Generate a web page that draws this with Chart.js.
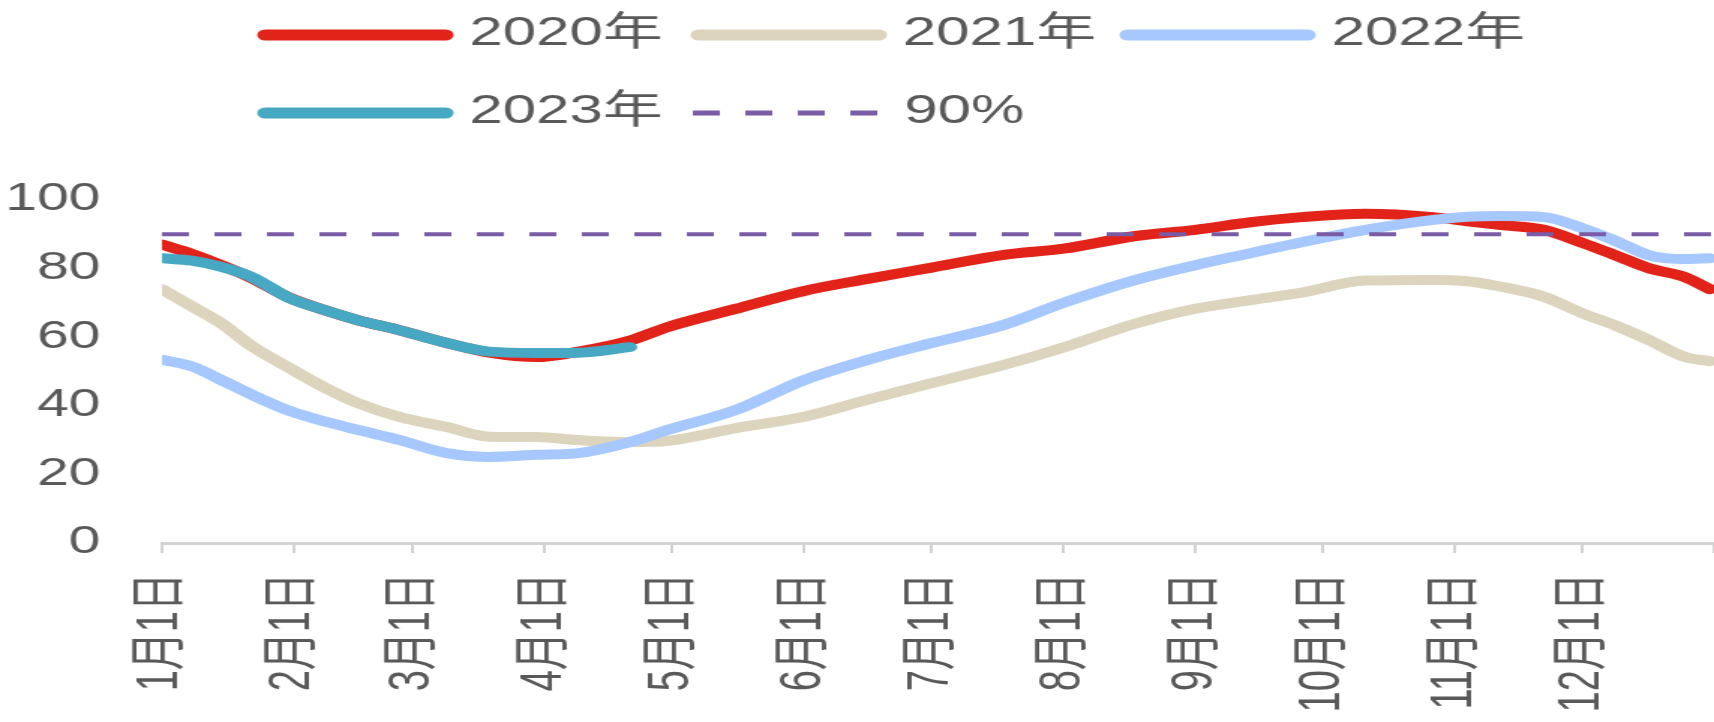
<!DOCTYPE html>
<html>
<head>
<meta charset="utf-8">
<script src="https://cdn.jsdelivr.net/npm/chart.js@4.4.1/dist/chart.umd.min.js"></script>
<style>
    html, body { margin: 0; padding: 0; background: #fff; overflow: hidden; }
    /* the reference is stretched sideways, so draw narrow and scale it out */
    #wrap { width: 1143px; height: 722px; transform: scaleX(1.49956); transform-origin: 0 0; }
</style>
</head>
<body>
<div id="wrap"><canvas id="myChart" width="1143" height="722"></canvas></div>
<script>
// day of year for each reading (0 = Jan 1)
const days = [0, 7, 14, 21, 30, 38, 46, 56, 67, 77, 88, 98, 110, 119, 135, 151, 166, 181, 198, 212,
    229, 243, 256, 268, 283, 299, 307, 315, 325, 334, 342, 350, 358, 364];

const y2020 = [87, 84.3, 81, 77.3, 71.5, 68, 65, 62, 58.3, 55.5, 54.2, 55.8, 59, 63, 68.3, 73.5, 77, 80.3, 84, 85.8,
    89.5, 91.3, 93.5, 95, 96, 95, 93.8, 92.7, 91.3, 87.5, 83.8, 80, 77.6, 74];
const y2021 = [74, 69, 64, 57.5, 51, 45.5, 40.8, 36.7, 33.8, 31, 30.9, 30, 29.4, 29.8, 33.5, 36.8, 41.8, 46.6, 51.9, 57,
    64, 68.3, 70.8, 73, 76.5, 76.7, 76.3, 74.7, 71.8, 67, 63.3, 59, 54.3, 53];
const y2022 = [53.4, 51.5, 47.5, 43.3, 38.5, 35.5, 33, 30, 26.2, 25.1, 25.7, 26.2, 29.4, 33, 38.8, 47.5, 53.4, 58.3, 63.6, 70,
    76.7, 81, 84.5, 87.7, 91.3, 94.2, 95.1, 95.3, 95, 91.8, 88, 83.8, 82.8, 83];
const y2023 = [83, 82.3, 80.5, 77.6, 71.4, 68, 65, 62, 58.3, 55.8, 55.4, 55.5, 57.1];
const targetLevel = 90;

// month start ticks
const monthDays = [0, 31, 59, 90, 120, 151, 181, 212, 243, 273, 304, 334, 365];
const monthLabels = ['1月1日', '2月1日', '3月1日', '4月1日', '5月1日', '6月1日', '7月1日', '8月1日',
    '9月1日', '10月1日', '11月1日', '12月1日', ''];

const FONT = '"Liberation Sans", "Noto Sans CJK SC", sans-serif';
const TEXT = '#595959';

function points(values) {
    return values.map((v, i) => ({x: days[i], y: v}));
}

function lineSet(label, values, color, order) {
    return {
        label: label,
        data: points(values),
        borderColor: color,
        backgroundColor: color,
        borderWidth: 10,
        borderCapStyle: 'round',
        borderJoinStyle: 'round',
        pointRadius: 0,
        cubicInterpolationMode: 'monotone',
        order: order
    };
}

// legend spots (canvas units, before the sideways stretch)
const legendSpots = [
    {x: 172, y: 35}, {x: 461, y: 35}, {x: 747, y: 35},
    {x: 172, y: 113}, {x: 462, y: 113}
];

const topLegend = {
    id: 'topLegend',
    afterDraw(chart) {
        const ctx = chart.ctx;
        ctx.save();
        ctx.font = '40px ' + FONT;
        ctx.fillStyle = TEXT;
        ctx.textBaseline = 'middle';
        legendSpots.forEach((spot, i) => {
            const ds = chart.data.datasets[i];
            ctx.strokeStyle = ds.borderColor;
            if (ds.borderDash) {
                ctx.lineWidth = 5;
                ctx.lineCap = 'butt';
                ctx.setLineDash(ds.borderDash);
                ctx.beginPath();
                ctx.moveTo(spot.x, spot.y);
                ctx.lineTo(spot.x + 123, spot.y);
                ctx.stroke();
                ctx.setLineDash([]);
            } else {
                ctx.lineWidth = 11;
                ctx.lineCap = 'round';
                ctx.beginPath();
                ctx.moveTo(spot.x + 5, spot.y);
                ctx.lineTo(spot.x + 125, spot.y);
                ctx.stroke();
            }
            ctx.fillText(ds.label, spot.x + 141, spot.y - 1);
        });
        ctx.restore();
    }
};

const myChart = new Chart(
    document.getElementById('myChart'),
    {
        type: 'line',
        data: {
            datasets: [
                lineSet('2020年', y2020, '#E2231A', 4),
                lineSet('2021年', y2021, '#DDD4BD', 3),
                lineSet('2022年', y2022, '#A6C8FF', 2),
                lineSet('2023年', y2023, '#46A8C2', 1),
                {
                    label: '90%',
                    data: [{x: 0, y: targetLevel}, {x: 365, y: targetLevel}],
                    borderColor: '#7A5BA6',
                    borderWidth: 4,
                    borderDash: [18, 17],
                    pointRadius: 0,
                    order: 0
                }
            ]
        },
        options: {
            responsive: false,
            devicePixelRatio: 1,
            animation: false,
            layout: {padding: {top: 200, left: 0, right: 0, bottom: 0}},
            plugins: {
                legend: {display: false},
                tooltip: {enabled: false}
            },
            scales: {
                x: {
                    type: 'linear',
                    min: 0,
                    max: 365,
                    afterBuildTicks: (scale) => {
                        scale.ticks = monthDays.map(v => ({value: v}));
                    },
                    afterFit: (scale) => {
                        scale.height = 179;
                        scale.paddingLeft = 0;
                        scale.paddingRight = 0;
                    },
                    grid: {drawOnChartArea: false, drawTicks: true, tickLength: 10, color: '#d3d3d3', lineWidth: 2},
                    border: {color: '#d3d3d3', width: 3},
                    ticks: {
                        autoSkip: false,
                        minRotation: 90,
                        maxRotation: 90,
                        padding: 20,
                        color: TEXT,
                        font: {family: FONT, size: 38},
                        callback: (value, index) => monthLabels[index]
                    }
                },
                y: {
                    min: 0,
                    max: 100,
                    afterFit: (scale) => {
                        scale.width = 108;
                    },
                    grid: {display: false, drawTicks: false},
                    border: {display: false},
                    ticks: {
                        stepSize: 20,
                        padding: 41,
                        color: TEXT,
                        font: {family: FONT, size: 38}
                    }
                }
            }
        },
        plugins: [topLegend]
    }
);
</script>
</body>
</html>
